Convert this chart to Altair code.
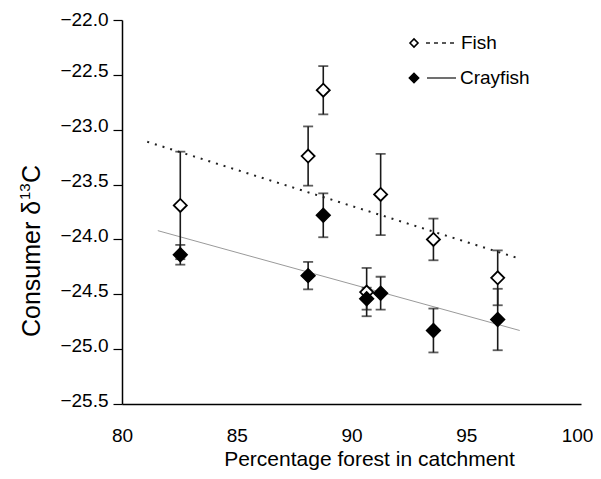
import altair as alt
import pandas as pd

# ---- data ----
forest = [82.54, 88.11, 88.77, 90.66, 91.27, 93.57, 96.37]
fish_mean = [-23.69, -23.24, -22.64, -24.48, -23.59, -24.00, -24.35]
fish_err = [0.49, 0.27, 0.22, 0.22, 0.37, 0.19, 0.25]
cray_mean = [-24.14, -24.33, -23.78, -24.54, -24.49, -24.83, -24.73]
cray_err = [0.09, 0.125, 0.20, 0.10, 0.15, 0.20, 0.28]

fish_fit_x = [81.1, 97.24]
fish_fit_y = [-23.11, -24.17]
cray_fit_x = [81.56, 97.33]
cray_fit_y = [-23.92, -24.83]

legend_labels = ["Fish", "Crayfish"]
y_title_parts = ["Consumer δ", "13", "C"]
x_ticks = [80, 85, 90, 95, 100]
y_ticks = [-22.0, -22.5, -23.0, -23.5, -24.0, -24.5, -25.0, -25.5]

FONT = "Liberation Sans"

rows = []
for g, means, errs in (("Fish", fish_mean, fish_err), ("Crayfish", cray_mean, cray_err)):
    for xv, m, e in zip(forest, means, errs):
        rows.append({"group": g, "forest": xv, "mean": m, "lo": m - e, "hi": m + e})
df = pd.DataFrame(rows)
fish_df = df[df.group == "Fish"]
cray_df = df[df.group == "Crayfish"]

fit_df = pd.DataFrame(
    [{"group": "Fish", "forest": x, "mean": y} for x, y in zip(fish_fit_x, fish_fit_y)]
    + [{"group": "Crayfish", "forest": x, "mean": y} for x, y in zip(cray_fit_x, cray_fit_y)]
)

xscale = alt.Scale(domain=[80, 100], nice=False, zero=False)
yscale = alt.Scale(domain=[-25.5, -22.0], nice=False, zero=False)

x_axis = alt.Axis(
    values=x_ticks, format="d", ticks=False, tickSize=0, grid=False,
    labelFontSize=19, labelFont=FONT, labelColor="black", labelPadding=37,
    labelBaseline="alphabetic", labelFlush=False, labelOverlap=False,
    labelOffset={"condition": {"test": "datum.value == 100", "value": -4}, "value": 0},
    title="Percentage forest in catchment", titleFontSize=21, titleFont=FONT,
    titleFontWeight="normal", titleColor="black", titleX=247, titleY=61,
    titleBaseline="alphabetic", titleAlign="center",
    domainColor="black", domainWidth=1.5,
)
y_axis = alt.Axis(
    values=y_ticks, format=".1f", ticks=True, tickSize=9, tickColor="black",
    tickWidth=1.2, grid=False,
    labelFontSize=19, labelFont=FONT, labelColor="black", labelPadding=5,
    labelBaseline="alphabetic", labelFlush=False, labelOverlap=False,
    labelOffset={"condition": {"test": "datum.value == -22", "value": 5}, "value": 2},
    title="",
    domainColor="black", domainWidth=1.5,
)

X = alt.X("forest:Q", scale=xscale, axis=x_axis)


def Y(field):
    return alt.Y(field, scale=yscale, axis=y_axis)


fish_fit = alt.Chart(fit_df[fit_df.group == "Fish"]).mark_line(
    color="#222222", strokeWidth=2, strokeDash=[2, 6]
).encode(x=X, y=Y("mean:Q"))

cray_fit = alt.Chart(fit_df[fit_df.group == "Crayfish"]).mark_line(
    color="#9a9a9a", strokeWidth=1
).encode(x=X, y=Y("mean:Q"))

err_rule = alt.Chart(df).mark_rule(color="#1a1a1a", strokeWidth=1.6).encode(
    x=X, y=Y("lo:Q"), y2="hi:Q"
)
cap_lo = alt.Chart(df).mark_tick(orient="horizontal", size=10, thickness=1.8, color="#1a1a1a").encode(
    x=X, y=Y("lo:Q")
)
cap_hi = alt.Chart(df).mark_tick(orient="horizontal", size=10, thickness=1.8, color="#1a1a1a").encode(
    x=X, y=Y("hi:Q")
)

fish_pts = alt.Chart(fish_df).mark_point(
    shape="diamond", size=170, filled=True, fill="white", stroke="black", strokeWidth=1.8, opacity=1
).encode(x=X, y=Y("mean:Q"))

cray_pts = alt.Chart(cray_df).mark_point(
    shape="diamond", size=190, filled=True, fill="black", stroke="black", strokeWidth=1.5, opacity=1
).encode(x=X, y=Y("mean:Q"))

# ---- y-axis title built from parts (superscript 13) ----
t_main = alt.Chart(pd.DataFrame({"t": [y_title_parts[0]]})).mark_text(
    align="left", baseline="alphabetic", angle=270, fontSize=25, font=FONT, color="black"
).encode(x=alt.value(-82), y=alt.value(317), text="t:N")
t_sup = alt.Chart(pd.DataFrame({"t": [y_title_parts[1]]})).mark_text(
    align="left", baseline="alphabetic", angle=270, fontSize=15, font=FONT, color="black"
).encode(x=alt.value(-92), y=alt.value(180), text="t:N")
t_c = alt.Chart(pd.DataFrame({"t": [y_title_parts[2]]})).mark_text(
    align="left", baseline="alphabetic", angle=270, fontSize=25, font=FONT, color="black"
).encode(x=alt.value(-82), y=alt.value(163), text="t:N")

# ---- manual legend ----
leg_fish = pd.DataFrame({"label": [legend_labels[0]]})
leg_cray = pd.DataFrame({"label": [legend_labels[1]]})

lf_sym = alt.Chart(leg_fish).mark_point(
    shape="diamond", size=64, filled=True, fill="white", stroke="black", strokeWidth=1.6, opacity=1
).encode(x=alt.value(292), y=alt.value(23))
lf_line = alt.Chart(leg_fish).mark_rule(color="#222222", strokeWidth=1.3, strokeDash=[4, 4]).encode(
    x=alt.value(304), x2=alt.value(334), y=alt.value(23)
)
lf_text = alt.Chart(leg_fish).mark_text(
    align="left", baseline="middle", fontSize=19, font=FONT, color="black"
).encode(x=alt.value(339), y=alt.value(23), text="label:N")

lc_sym = alt.Chart(leg_cray).mark_point(
    shape="diamond", size=95, filled=True, fill="black", stroke="black", strokeWidth=1.2, opacity=1
).encode(x=alt.value(292), y=alt.value(58))
lc_line = alt.Chart(leg_cray).mark_rule(color="#222222", strokeWidth=1.3).encode(
    x=alt.value(305), x2=alt.value(334), y=alt.value(58)
)
lc_text = alt.Chart(leg_cray).mark_text(
    align="left", baseline="middle", fontSize=19, font=FONT, color="black"
).encode(x=alt.value(338), y=alt.value(58), text="label:N")

chart = alt.layer(
    fish_fit, cray_fit, err_rule, cap_lo, cap_hi, fish_pts, cray_pts,
    t_main, t_sup, t_c,
    lf_sym, lf_line, lf_text, lc_sym, lc_line, lc_text,
).properties(
    width=459, height=384,
    autosize=alt.AutoSizeParams(type="none"),
    padding={"left": 114, "top": 12, "right": 12, "bottom": 67},
    background="white",
).configure_view(stroke=None)

chart.save("out.html", embed_options={"renderer": "svg", "actions": False})
